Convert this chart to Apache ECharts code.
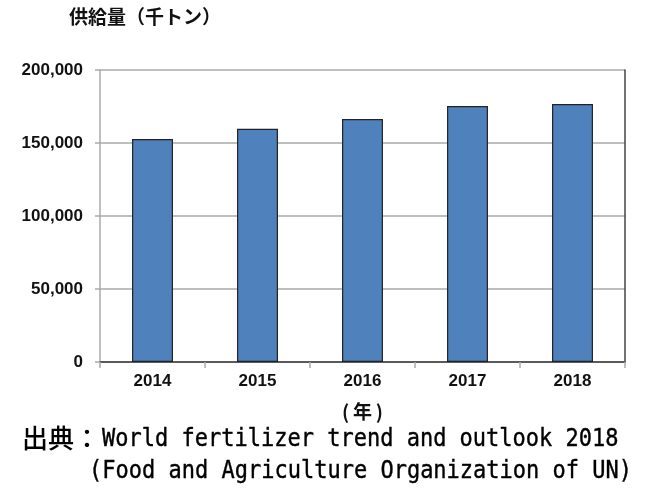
<!DOCTYPE html>
<html>
<head>
<meta charset="utf-8">
<script src="https://cdn.jsdelivr.net/npm/echarts@6/dist/echarts.min.js"></script>
<style>
  html, body { margin: 0; padding: 0; background: #fff; }
  #main { width: 656px; height: 494px; }
</style>
</head>
<body>
<div id="main"></div>
<script>
// 世界の肥料供給量
var years = ['2014', '2015', '2016', '2017', '2018'];
var supply = [152700, 159800, 166400, 175300, 176700];
var yTicks = [0, 50000, 100000, 150000, 200000];

var yMax = yTicks[yTicks.length - 1];
var yStep = yTicks[1] - yTicks[0];

function fmt(v) {
  return String(v).replace(/\B(?=(\d{3})+(?!\d))/g, ',');
}

var myChart = echarts.init(document.getElementById('main'));

var option = {
  animation: false,
  backgroundColor: '#fff',
  grid: { left: 100, right: 31, top: 70, bottom: 132 },
  xAxis: [{
    type: 'category',
    data: years,
    name: '(\u2009年\u2009)',
    nameLocation: 'middle',
    nameGap: 40,
    nameTextStyle: { fontFamily: 'Noto Sans CJK JP', fontSize: 19, fontWeight: 'bold', color: '#111' },
    axisLine: { lineStyle: { color: '#aaa', width: 1.5 } },
    axisTick: { show: true, length: 6, alignWithLabel: false, lineStyle: { color: '#aaa', width: 1.5 } },
    axisLabel: { margin: 11, fontFamily: 'Liberation Sans', fontSize: 17, fontWeight: 'bold', color: '#111' }
  }, {
    type: 'category',
    position: 'top',
    data: years,
    axisLine: { lineStyle: { color: '#5a5a5a', width: 2 } },
    axisTick: { show: false },
    axisLabel: { show: false }
  }],
  yAxis: [{
    type: 'value',
    min: 0,
    max: yMax,
    interval: yStep,
    axisLine: { show: true, lineStyle: { color: '#aaa', width: 1.5 } },
    axisTick: { show: true, length: 5, lineStyle: { color: '#aaa', width: 1.5 } },
    splitLine: { lineStyle: { color: '#aaa', width: 1.5 } },
    axisLabel: {
      margin: 17,
      fontFamily: 'Liberation Sans', fontSize: 17, fontWeight: 'bold', color: '#111',
      formatter: fmt
    }
  }, {
    type: 'value',
    position: 'right',
    min: 0,
    max: yMax,
    interval: yStep,
    axisLine: { show: true, lineStyle: { color: '#444', width: 1.5 } },
    axisTick: { show: false },
    splitLine: { show: false },
    axisLabel: { show: false }
  }],
  graphic: [{
    type: 'text',
    left: 69,
    top: 7,
    style: { text: '供給量（千トン）', font: 'bold 19px "Noto Sans CJK JP"', fill: '#111' }
  }, {
    type: 'text',
    x: 22,
    y: 425,
    style: { text: '出典：', font: '500 26px "Noto Sans CJK JP"', fill: '#000' }
  }, {
    type: 'text',
    x: 102,
    y: 427,
    scaleX: 0.88,
    style: { text: 'World fertilizer trend and outlook 2018', font: '25px "DejaVu Sans Mono"', fill: '#000', stroke: '#000', lineWidth: 0.4 }
  }, {
    type: 'text',
    x: 89,
    y: 459,
    scaleX: 0.88,
    style: { text: '(Food and Agriculture Organization of UN)', font: '25px "DejaVu Sans Mono"', fill: '#000', stroke: '#000', lineWidth: 0.4 }
  }],
  series: [{
    type: 'bar',
    data: supply,
    barWidth: '39%',
    itemStyle: { color: '#4f81bd', borderColor: '#222', borderWidth: 1.2 }
  }]
};

myChart.setOption(option);
</script>
</body>
</html>
